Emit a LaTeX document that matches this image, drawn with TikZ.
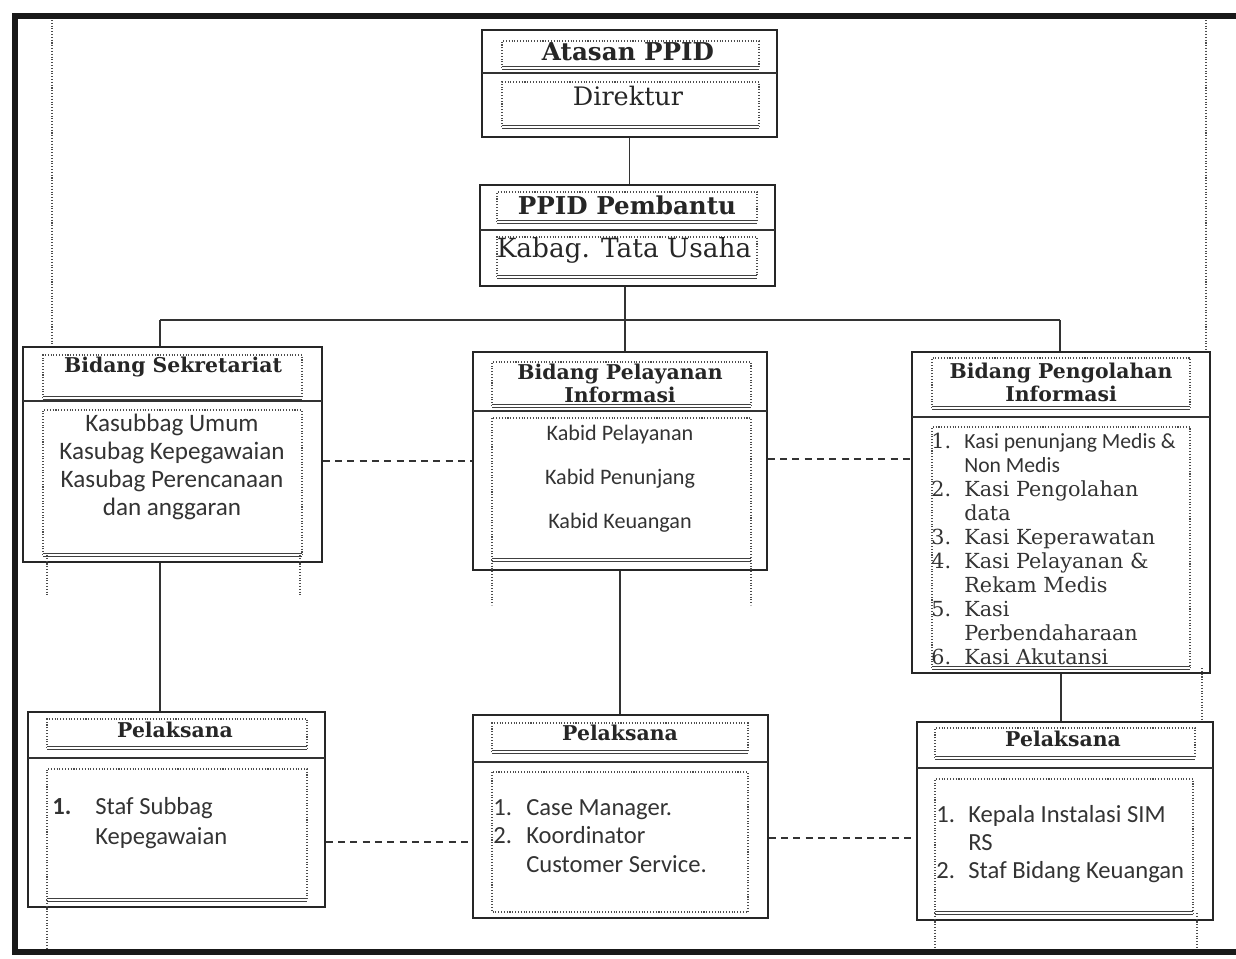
\documentclass[tikz,border=0pt]{standalone}
\usepackage{fontspec}
\setmainfont{DejaVu Serif}
\newfontfamily\calibri{Carlito}
\usetikzlibrary{positioning,calc}

\tikzset{
  orgbox/.style 2 args={draw=black!85, line width=0.8pt, minimum width=#1*0.2mm, minimum height=#2*0.2mm, inner sep=0pt},
  dotline/.style={densely dotted, line width=0.6pt, black!70},
  dblrule/.style={draw=black!75, line width=0.45pt, double=white, double distance=0.9pt},
  linkline/.style={line width=0.8pt, black!80},
  linkdash/.style={dash pattern=on 4pt off 3pt, line width=0.8pt, black!80},
  headtxt/.style={font=\bfseries\fontsize{11.6}{13}\selectfont, text=black!85, align=center, inner sep=0pt},
  bodytxt/.style={font=\calibri\fontsize{14.3}{15.9}\selectfont, text=black!80, align=center, inner sep=0pt},
}
\def\dotbox(#1,#2)(#3,#4){\draw[dotline] (#1,#4) -- (#1,#2) -- (#3,#2) -- (#3,#4); \draw[dblrule] (#1,#4) -- (#3,#4);}

\begin{document}
\begin{tikzpicture}[x=0.2mm, y=-0.2mm]
\useasboundingbox (0,0) rectangle (1236,958);
%%%%% PAGE %%%%%
\draw[line width=3.4pt, black!90] (1236,16) -- (15,16) -- (15,952) -- (1236,952);
\draw[dotline] (52,20) -- (52,347);
\draw[dotline] (1206,20) -- (1206,352);

%%%%% ATASAN %%%%%
\node[orgbox={295}{107}] (atasan) at (629.5,83.5) {};
\draw[linkline] (482,73) -- (777,73);
\dotbox(502,41)(759,68)
\dotbox(502,82)(759,127)
\node[headtxt, font=\bfseries\fontsize{14}{15}\selectfont] (atasanT) at (628,52) {Atasan PPID};
\node[headtxt, font=\fontsize{14.5}{15}\selectfont] (direktur) at (628,96) {Direktur};

%%%%% PEMBANTU %%%%%
\node[orgbox={295}{101}] (pembantu) at (627.5,235.5) {};
\draw[linkline] (480,230) -- (775,230);
\dotbox(497,192)(757,222)
\dotbox(497,237)(757,277)
\node[headtxt, font=\bfseries\fontsize{14}{15}\selectfont] (pembantuT) at (627,205) {PPID Pembantu};
\node[headtxt, font=\fontsize{15}{16}\selectfont] (kabag) at (624,250) {Kabag. Tata Usaha};

\draw[linkline] (atasan.south) -- (atasan.south |- pembantu.north);
\coordinate (bus) at (625,320);
\coordinate (busL) at (160,320);
\coordinate (busR) at (1060,320);
\draw[linkline] (pembantu.south -| bus) -- (bus);
\draw[linkline] (busL) -- (busR);

%%%%% BIDANG %%%%%
\node[orgbox={299}{215}] (sekretariat) at (172.5,454.5) {};
\draw[linkline] (23,401) -- (322,401);
\dotbox(43,355)(302,398)
\dotbox(43,410)(302,555)
\draw[dotline] (47,555) -- (47,595);
\draw[dotline] (300,555) -- (300,595);
\node[headtxt] (sekretariatT) at (173,367) {Bidang Sekretariat};
\node[bodytxt] (sekretariatB) at (172,467) {Kasubbag Umum\\Kasubag Kepegawaian\\Kasubag Perencanaan\\dan anggaran};

\node[orgbox={294}{218}] (pelayanan) at (620,461) {};
\draw[linkline] (473,411) -- (767,411);
\dotbox(492,362)(751,406)
\dotbox(492,418)(751,560)
\draw[dotline] (492,560) -- (492,605);
\draw[dotline] (751,560) -- (751,605);
\node[headtxt] (pelayananT) at (620,383) {Bidang Pelayanan\\Informasi};
\node[bodytxt, font=\calibri\fontsize{12.6}{25}\selectfont] (pelayananB) at (620,479) {Kabid Pelayanan\\Kabid Penunjang\\Kabid Keuangan};

\node[orgbox={298}{321}] (pengolahan) at (1061,512.5) {};
\draw[linkline] (912,417) -- (1210,417);
\dotbox(932,358)(1190,408)
\dotbox(932,427)(1190,668)
\draw[dotline] (1202,668) -- (1202,722);
\node[headtxt] (pengolahanT) at (1061,382) {Bidang Pengolahan\\Informasi};
\node[bodytxt, align=left, anchor=west, font=\fontsize{11.8}{13.7}\selectfont] (pengolahanB) at (931,549)
  {\makebox[6.6mm][l]{1.}{\calibri\fontsize{12.3}{13.7}\selectfont Kasi penunjang Medis \&}\\
   \hspace*{6.6mm}{\calibri\fontsize{12.3}{13.7}\selectfont Non Medis}\\
   \makebox[6.6mm][l]{2.}Kasi Pengolahan\\
   \hspace*{6.6mm}data\\
   \makebox[6.6mm][l]{3.}Kasi Keperawatan\\
   \makebox[6.6mm][l]{4.}Kasi Pelayanan \&\\
   \hspace*{6.6mm}Rekam Medis\\
   \makebox[6.6mm][l]{5.}Kasi\\
   \hspace*{6.6mm}Perbendaharaan\\
   \makebox[6.6mm][l]{6.}Kasi Akutansi};

\draw[linkline] (busL) -- (busL |- sekretariat.north);
\draw[linkline] (bus) -- (bus |- pelayanan.north);
\draw[linkline] (busR) -- (busR |- pengolahan.north);
\draw[linkdash] ([yshift=-1.3mm]sekretariat.east) -- ([yshift=-1.3mm]sekretariat.east -| pelayanan.west);
\draw[linkdash] ([yshift=0.4mm]pelayanan.east) -- ([yshift=0.4mm]pelayanan.east -| pengolahan.west);

%%%%% PELAKSANA %%%%%
\node[orgbox={297}{195}] (pelaksanaA) at (176.5,809.5) {};
\draw[linkline] (28,758) -- (325,758);
\dotbox(47,719)(307,748)
\dotbox(47,769)(307,900)
\draw[dotline] (47,900) -- (47,948);
\node[headtxt] (pelaksanaAT) at (175,730) {Pelaksana};
\node[bodytxt, align=left, anchor=west, font=\calibri\fontsize{14}{17}\selectfont] (pelaksanaAB) at (52,823)
  {\makebox[8.6mm][l]{\textbf{1.}}Staf Subbag\\\hspace*{8.6mm}Kepegawaian};

\node[orgbox={295}{203}] (pelaksanaB) at (620.5,816.5) {};
\draw[linkline] (473,762) -- (768,762);
\dotbox(492,723)(748,752)
\draw[dotline] (492,772) rectangle (748,912);
\node[headtxt] (pelaksanaBT) at (620,733) {Pelaksana};
\node[bodytxt, align=left, anchor=west, font=\calibri\fontsize{14}{16}\selectfont] (pelaksanaBB) at (493,836)
  {\makebox[6.6mm][l]{1.}Case Manager.\\\makebox[6.6mm][l]{2.}Koordinator\\\hspace*{6.6mm}Customer Service.};

\node[orgbox={296}{198}] (pelaksanaC) at (1065,821) {};
\draw[linkline] (917,768) -- (1213,768);
\dotbox(935,728)(1195,758)
\dotbox(935,779)(1193,913)
\draw[dotline] (935,913) -- (935,948);
\draw[dotline] (1197,913) -- (1197,948);
\node[headtxt] (pelaksanaCT) at (1063,739) {Pelaksana};
\node[bodytxt, align=left, anchor=west, font=\calibri\fontsize{14}{16}\selectfont] (pelaksanaCB) at (936,844)
  {\makebox[6.4mm][l]{1.}Kepala Instalasi SIM\\\hspace*{6.4mm}RS\\\makebox[6.4mm][l]{2.}Staf Bidang Keuangan};

\draw[linkline] (busL |- sekretariat.south) -- (busL |- pelaksanaA.north);
\draw[linkline] (pelayanan.south) -- (pelayanan.south |- pelaksanaB.north);
\draw[linkline] (pengolahan.south) -- (pengolahan.south |- pelaksanaC.north);
\coordinate (lowL) at (0,842);
\coordinate (lowR) at (0,838);
\draw[linkdash] (pelaksanaA.east |- lowL) -- (pelaksanaB.west |- lowL);
\draw[linkdash] (pelaksanaB.east |- lowR) -- (pelaksanaC.west |- lowR);
\end{tikzpicture}
\end{document}
